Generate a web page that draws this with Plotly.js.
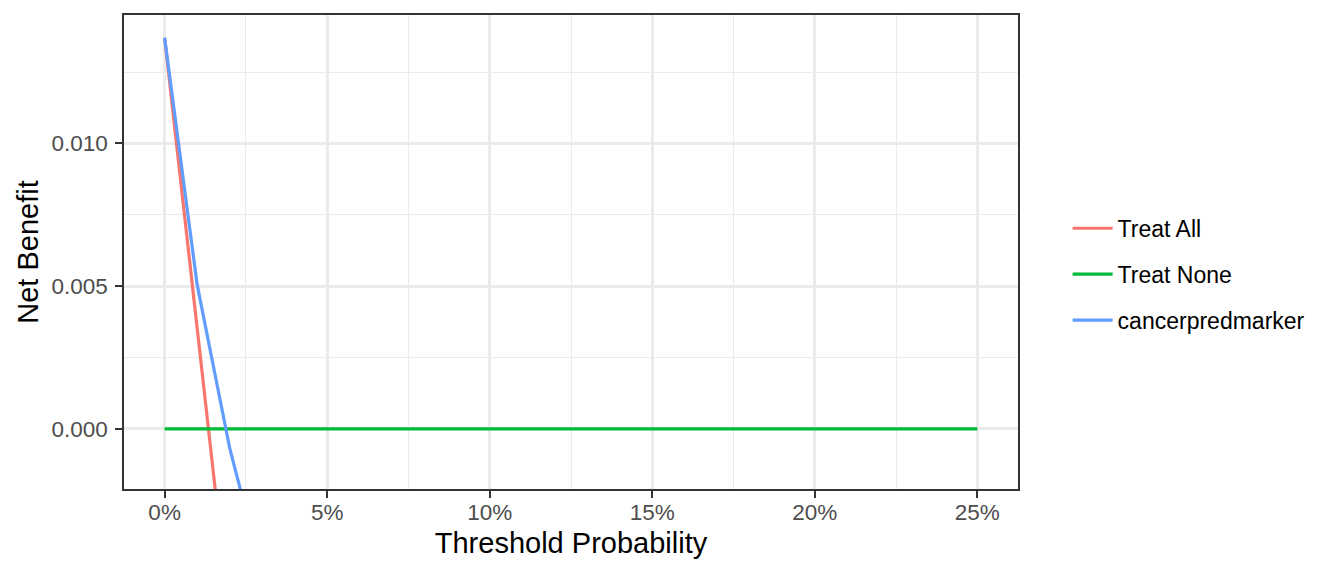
<!DOCTYPE html>
<html>
<head>
<meta charset="utf-8">
<script src="https://cdn.plot.ly/plotly-3.0.1.min.js"></script>
<style>html,body{margin:0;padding:0;background:#fff;}#chart{width:1344px;height:576px;}</style>
</head>
<body>
<div id="chart"></div>
<script>
// Threshold probabilities
var thresholdsShort = [0, 0.01, 0.02, 0.03, 0.04, 0.05];
var thresholdsAll = [0, 0.01, 0.02, 0.03, 0.04, 0.05, 0.06, 0.07, 0.08, 0.09, 0.10, 0.11, 0.12,
  0.13, 0.14, 0.15, 0.16, 0.17, 0.18, 0.19, 0.20, 0.21, 0.22, 0.23, 0.24, 0.25];
// Net benefit values
var treatAll = [0.0137, 0.0035, -0.0065, -0.0168, -0.0274, -0.0382];
var treatNone = [0,0,0,0,0,0,0,0,0,0,0,0,0,0,0,0,0,0,0,0,0,0,0,0,0,0];
var cancerpredmarker = [0.0137, 0.00505, -0.00067, -0.0053, -0.0095, -0.0135];
var seriesNames = ["Treat All", "Treat None", "cancerpredmarker"];
var seriesColors = ["#F8766D", "#00BA38", "#619CFF"];
var xTickVals = [0, 0.05, 0.10, 0.15, 0.20, 0.25];
var xMinorVals = [0.025, 0.075, 0.125, 0.175, 0.225];
var yTickVals = [0, 0.005, 0.010];
var yMinorVals = [0.0025, 0.0075, 0.0125];

var lw = 3.2;
var traces = [
  {x: thresholdsShort, y: treatAll, name: seriesNames[0], legendgroup: "a"},
  {x: thresholdsAll, y: treatNone, name: seriesNames[1], legendgroup: "b"},
  {x: thresholdsShort, y: cancerpredmarker, name: seriesNames[2], legendgroup: "c"}
].map(function(t, i){
  t.type = "scatter"; t.mode = "lines";
  t.line = {color: seriesColors[i], width: lw};
  t.hoverinfo = "x+y+name";
  return t;
});

var font = "Liberation Sans, Arial, Helvetica, sans-serif";
var layout = {
  width: 1344, height: 576,
  margin: {l: 124, r: 326, t: 15, b: 87, pad: 0},
  paper_bgcolor: "#ffffff", plot_bgcolor: "#ffffff",
  font: {family: font, size: 22.5, color: "#000000"},
  showlegend: true,
  legend: {x: 1.0555, xanchor: "left", y: 0.453, yanchor: "middle",
    font: {family: font, size: 23, color: "#000000"},
    tracegroupgap: 13, itemwidth: 40, bgcolor: "rgba(0,0,0,0)", borderwidth: 0},
  xaxis: {
    range: [-0.0125, 0.2625], tickvals: xTickVals, tickformat: ".0%",
    showgrid: true, gridcolor: "#EBEBEB", gridwidth: 2.7,
    minor: {tickvals: xMinorVals, showgrid: true, gridcolor: "#EBEBEB", gridwidth: 1.3, ticks: ""},
    zeroline: false, showline: true, mirror: true, linecolor: "#333333", linewidth: 1.5,
    ticks: "outside", ticklen: 7, tickwidth: 1.5, tickcolor: "#333333",
    tickfont: {family: font, size: 22.5, color: "#4D4D4D"}, ticklabelstandoff: -5,
    title: {text: "Threshold Probability", font: {family: font, size: 29, color: "#000000"}, standoff: 9},
    automargin: false, fixedrange: true
  },
  yaxis: {
    range: [-0.00211, 0.0145], tickvals: yTickVals, tickformat: ".3f",
    showgrid: true, gridcolor: "#EBEBEB", gridwidth: 2.7,
    minor: {tickvals: yMinorVals, showgrid: true, gridcolor: "#EBEBEB", gridwidth: 1.3, ticks: ""},
    zeroline: false, showline: true, mirror: true, linecolor: "#333333", linewidth: 1.5,
    ticks: "outside", ticklen: 7, tickwidth: 1.5, tickcolor: "#333333",
    tickfont: {family: font, size: 22.5, color: "#4D4D4D"}, ticklabelstandoff: 3,
    title: {text: "Net Benefit", font: {family: font, size: 29, color: "#000000"}, standoff: 4},
    automargin: false, fixedrange: true
  }
};
Plotly.newPlot("chart", traces, layout, {displayModeBar: false});
</script>
</body>
</html>
